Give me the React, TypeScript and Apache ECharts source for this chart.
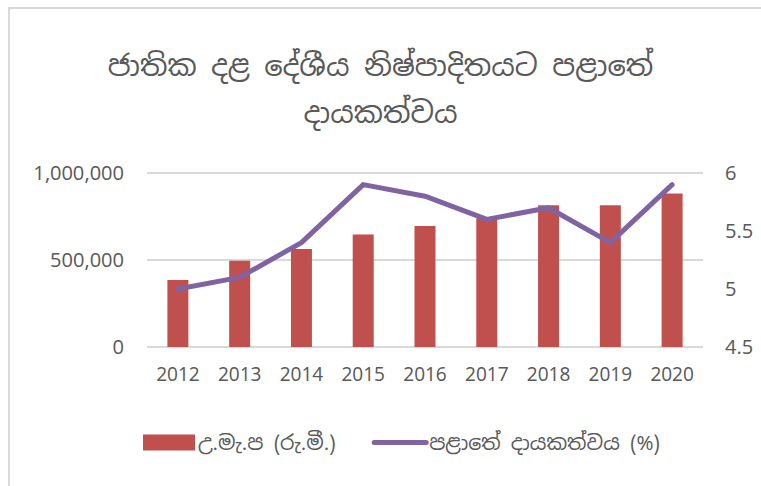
import React, { useEffect, useRef } from "react";
import * as echarts from "echarts";

const years = ["2012", "2013", "2014", "2015", "2016", "2017", "2018", "2019", "2020"];
const gdpValues = [385000, 496000, 563000, 647000, 696000, 740000, 815000, 815000, 882000];
const sharePercent = [5.0, 5.1, 5.4, 5.9, 5.8, 5.6, 5.7, 5.4, 5.9];
const titleText = "ජාතික දළ දේශීය නිෂ්පාදිතයට පළාතේ\nදායකත්වය";
const barName = "උ.මැ.ප (රු.මී.)";
const lineName = "පළාතේ දායකත්වය (%)";

const FONT = "'Noto Sans Sinhala', 'Open Sans', 'Noto Sans', sans-serif";

export default function App() {
  const ref = useRef<HTMLDivElement>(null);
  useEffect(() => {
    if (!ref.current) return;
    const chart = echarts.init(ref.current, null, { renderer: "svg" });
    chart.setOption({
      animation: false,
      backgroundColor: "#ffffff",
      textStyle: { fontFamily: FONT },
      graphic: [
        {
          type: "rect",
          shape: { x: 9, y: 8, width: 800, height: 500 },
          style: { fill: "none", stroke: "#d9d9d9", lineWidth: 2 },
          silent: true,
        },
      ],
      title: {
        text: titleText,
        left: "center",
        top: 37,
        textStyle: {
          fontFamily: FONT,
          fontSize: 29,
          fontWeight: "normal",
          color: "#595959",
          lineHeight: 47,
        },
      },
      legend: {
        bottom: 28,
        left: 138,
        itemGap: 36,
        itemWidth: 52,
        itemHeight: 16,
        textStyle: { fontFamily: FONT, fontSize: 20.5, color: "#595959", padding: [0, 0, 0, -2] },
        data: [
          { name: barName, icon: "rect" },
          {
            name: lineName,
            itemStyle: { opacity: 0 },
            lineStyle: { width: 5, cap: "round", color: "#8064A2" },
          },
        ],
      },
      grid: { left: 147, right: 58, top: 173, bottom: 139 },
      xAxis: {
        type: "category",
        data: years,
        axisLine: { show: false },
        axisTick: { show: false },
        axisLabel: { color: "#595959", fontSize: 19, margin: 18, fontFamily: FONT },
      },
      yAxis: [
        {
          type: "value",
          min: 0,
          max: 1000000,
          interval: 500000,
          axisLine: { show: false },
          axisTick: { show: false },
          splitLine: { lineStyle: { color: "#d9d9d9", width: 2 } },
          axisLabel: {
            color: "#595959",
            fontSize: 20,
            margin: 23,
            fontFamily: FONT,
            formatter: (v: number) => v.toLocaleString("en-US"),
          },
        },
        {
          type: "value",
          min: 4.5,
          max: 6,
          interval: 0.5,
          axisLine: { show: false },
          axisTick: { show: false },
          splitLine: { show: false },
          axisLabel: { color: "#595959", fontSize: 20, margin: 22, fontFamily: FONT },
        },
      ],
      series: [
        {
          name: barName,
          type: "bar",
          data: gdpValues,
          barWidth: 21,
          itemStyle: { color: "#C0504D" },
        },
        {
          name: lineName,
          type: "line",
          yAxisIndex: 1,
          data: sharePercent,
          symbol: "none",
          lineStyle: { color: "#8064A2", width: 5, cap: "round", join: "round" },
          itemStyle: { color: "#8064A2" },
        },
      ],
    });
    return () => chart.dispose();
  }, []);
  return (
    <div
      ref={ref}
      style={{ position: "fixed", left: 0, top: 0, width: 761, height: 486 }}
    />
  );
}
